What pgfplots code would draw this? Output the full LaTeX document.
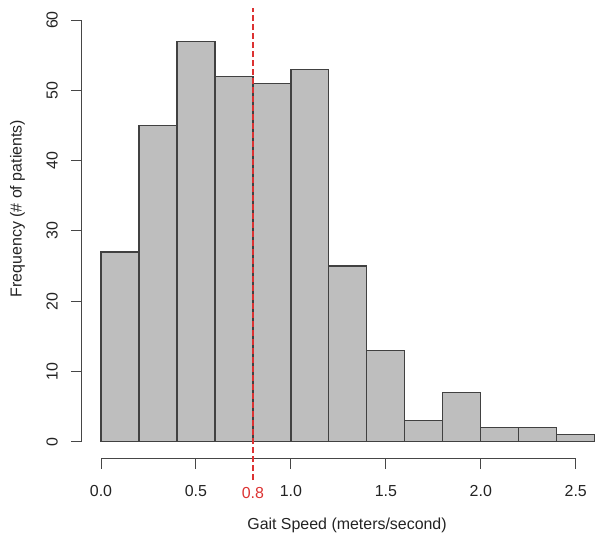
\documentclass[border=0pt]{standalone}
\usepackage{pgfplots}
\pgfplotsset{compat=1.18}
\usepackage{fontspec}
\setmainfont{Liberation Sans}

\definecolor{barfill}{RGB}{190,190,190}
\definecolor{bardraw}{RGB}{65,65,65}
\definecolor{axgray}{RGB}{70,70,70}
\definecolor{txt}{RGB}{35,35,35}
\definecolor{cutred}{RGB}{220,50,50}

\begin{document}
\begin{tikzpicture}
\begin{axis}[
  at={(81.25bp,85.4bp)}, anchor=south west,
  scale only axis, width=533.25bp, height=455.4bp,
  xmin=-0.104, xmax=2.704, ymin=-2.4, ymax=62.4,
  clip=false,
  axis x line*=bottom, axis y line*=left,
  axis line style={draw=none},
  tick align=outside, major tick length=10bp,
  tick style={axgray, line width=1bp},
  xtick={0,0.5,1,1.5,2,2.5}, ytick={0,10,20,30,40,50,60},
  minor tick num=0,
  /pgf/number format/assume math mode=true,
  tick label style={font=\fontsize{16}{19}\selectfont, text=txt},
  xticklabel style={/pgf/number format/.cd, fixed, fixed zerofill, precision=1},
  xticklabel shift=13bp,
  yticklabel style={rotate=90, anchor=south},
  yticklabel shift=10bp,
  xlabel={Gait Speed (meters/second)},
  ylabel={Frequency (\# of patients)},
  label style={font=\fontsize{16}{19}\selectfont, text=txt},
  xlabel style={at={(rel axis cs:0.4984,-0.1458)}, anchor=center},
  ylabel style={at={(rel axis cs:-0.1196,0.549)}, anchor=center},
]
\addplot[ybar interval, fill=barfill, draw=bardraw, line width=1.2bp] coordinates {
  (0.0,27) (0.2,45) (0.4,57) (0.6,52) (0.8,51) (1.0,53) (1.2,25)
  (1.4,13) (1.6,3) (1.8,7) (2.0,2) (2.2,2) (2.4,1) (2.6,1)};
\draw[axgray, line width=1.2bp] (axis cs:0,-2.4) -- (axis cs:2.5,-2.4);
\draw[axgray, line width=1.2bp] (axis cs:-0.104,0) -- (axis cs:-0.104,60);
\addplot[cutred, line width=2.5bp, dash pattern=on 6bp off 3bp] coordinates {(0.8,-5.45) (0.8,61.7)};
\node[anchor=base, text=cutred, font=\fontsize{16}{19}\selectfont] at (axis cs:0.8,-8.1) {0.8};
\end{axis}
\pgfresetboundingbox
\path (0bp,0bp) rectangle (602bp,544bp);
\end{tikzpicture}
\end{document}
